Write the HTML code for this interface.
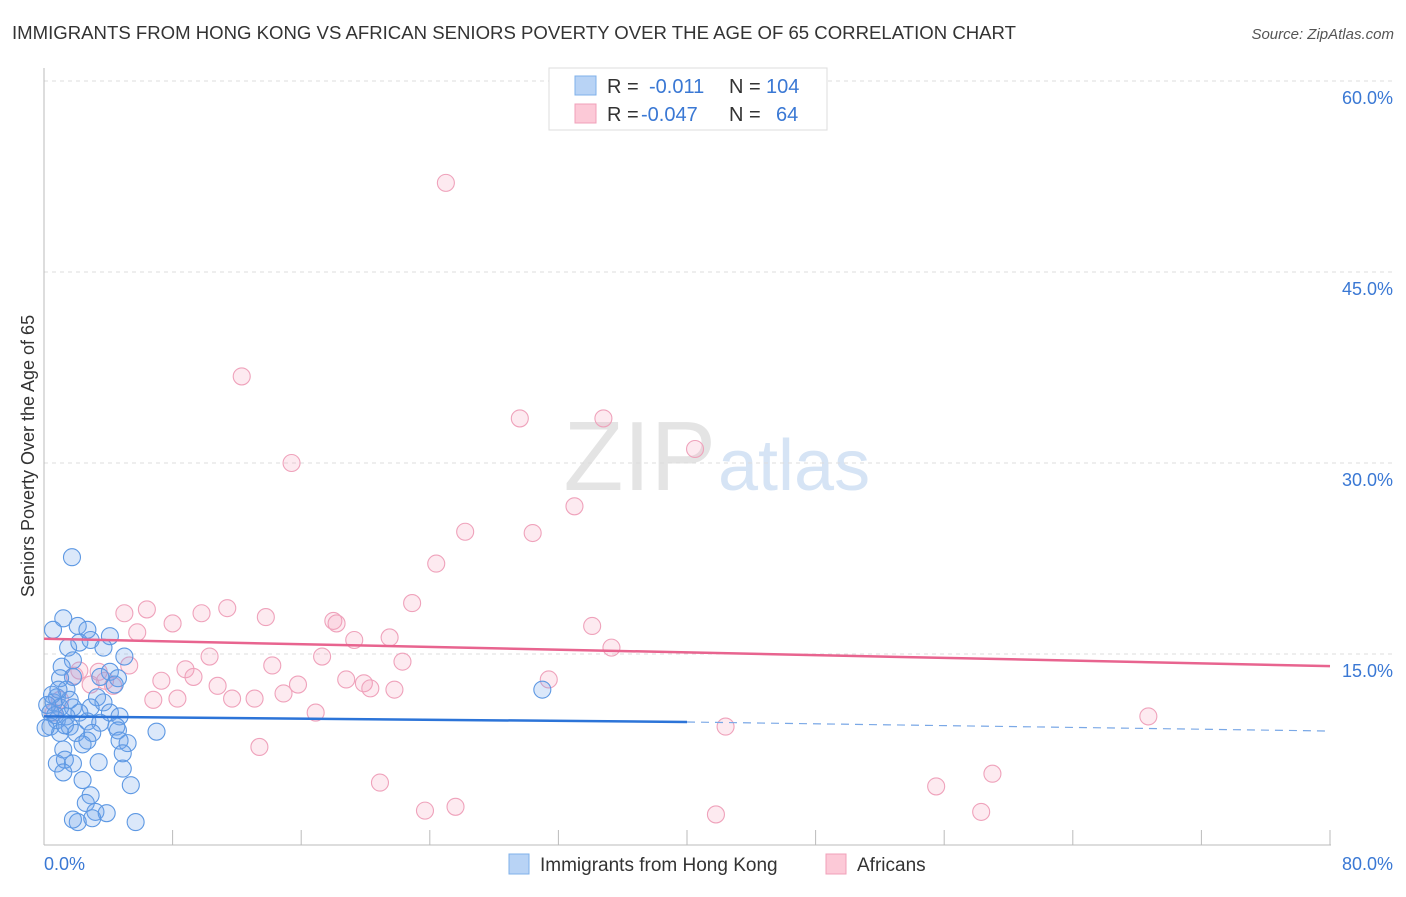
<!DOCTYPE html>
<html><head><meta charset="utf-8"><style>
body{margin:0;background:#fff;font-family:"Liberation Sans",sans-serif;}
svg text{font-family:"Liberation Sans",sans-serif;}
</style></head><body>
<svg id="chart" width="1406" height="892" xmlns="http://www.w3.org/2000/svg">
<text x="12" y="39" font-size="18" fill="#333" textLength="1004" lengthAdjust="spacingAndGlyphs">IMMIGRANTS FROM HONG KONG VS AFRICAN SENIORS POVERTY OVER THE AGE OF 65 CORRELATION CHART</text>
<text x="1394" y="39" font-size="15" fill="#555" font-style="italic" text-anchor="end">Source: ZipAtlas.com</text>
<text x="716" y="490" font-size="98" fill="#e4e4e4" text-anchor="end" font-family="Liberation Serif">ZIP</text>
<text x="718" y="490" font-size="72" fill="#d6e4f5">atlas</text>
<g id="grid"></g>
<g id="axes"></g>
<g id="pts"></g>
<g id="lines"></g>
<text transform="translate(34,456) rotate(-90)" font-size="18" fill="#333" text-anchor="middle">Seniors Poverty Over the Age of 65</text>
<g>
<rect x="549" y="68" width="278" height="62" fill="#fff" stroke="#ddd"/>
<rect x="575" y="76" width="21" height="19" fill="#b8d3f5" stroke="#7fb0ea"/>
<rect x="575" y="104" width="21" height="19" fill="#fcc9d7" stroke="#f0a0ba"/>
<text x="607" y="93" font-size="20" fill="#333">R = </text><text x="649" y="93" font-size="20" fill="#3a78d4">-0.011</text>
<text x="729" y="93" font-size="20" fill="#333">N = </text><text x="766" y="93" font-size="20" fill="#3a78d4">104</text>
<text x="607" y="121" font-size="20" fill="#333">R = </text><text x="641" y="121" font-size="20" fill="#3a78d4">-0.047</text>
<text x="729" y="121" font-size="20" fill="#333">N = </text><text x="776" y="121" font-size="20" fill="#3a78d4">64</text>
</g>
<g>
<rect x="509" y="854" width="20" height="20" fill="#b8d3f5" stroke="#7fb0ea"/>
<text x="540" y="871" font-size="19" fill="#333">Immigrants from Hong Kong</text>
<rect x="826" y="854" width="20" height="20" fill="#fcc9d7" stroke="#f0a0ba"/>
<text x="857" y="871" font-size="19" fill="#333">Africans</text>
</g>
</svg>
<script>
const yTicks=[15,30,45,60];
const yTickLabels=["15.0%","30.0%","45.0%","60.0%"];
const xTicks=[0,8,16,24,32,40,48,56,64,72,80];
const blueX=[1.74,1.2,0.56,2.1,2.7,4.1,1.5,2.2,2.9,3.7,5.0,1.8,1.1,4.1,1.8,1.0,3.5,4.6,4.4,1.4,0.8,0.6,1.0,1.8,3.3,3.7,2.9,4.1,4.7,2.2,1.4,0.8,0.4,0.4,1.6,2.7,3.5,4.5,1.0,2.0,3.0,4.6,7.0,4.7,2.7,5.2,1.2,2.4,4.9,1.3,1.8,0.8,3.4,4.9,1.2,2.4,5.4,2.9,2.6,3.2,3.9,2.1,1.8,3.0,5.7,31.0,0.5,0.2,0.7,1.3,0.1,1.6,0.9];
const blueY=[22.6,17.8,16.9,17.2,16.9,16.4,15.5,15.9,16.1,15.5,14.8,14.5,14.0,13.6,13.2,13.1,13.2,13.1,12.6,12.2,11.6,11.2,10.8,10.8,11.6,11.2,10.8,10.4,10.1,10.4,10.1,9.8,10.4,9.3,9.3,9.7,9.6,9.3,8.8,8.8,8.8,9.0,8.9,8.2,8.2,8.0,7.5,7.9,7.2,6.7,6.4,6.4,6.5,6.0,5.7,5.1,4.7,3.9,3.3,2.6,2.5,1.8,2.0,2.1,1.8,12.2,11.8,11.0,10.2,9.4,9.2,11.4,12.2];
const pinkX=[25.0,12.3,15.4,29.6,34.8,40.5,33.0,26.2,30.4,24.4,22.9,5.0,6.4,9.8,11.4,13.8,8.0,18.0,18.2,5.8,19.3,21.5,34.1,35.3,10.3,17.3,22.3,5.3,8.8,14.2,3.4,1.9,3.8,7.3,9.3,10.8,15.8,18.8,19.9,20.3,21.8,31.4,4.3,2.9,11.7,13.1,14.9,8.3,6.8,16.9,1.0,0.6,13.4,42.4,68.7,59.0,55.5,20.9,23.7,25.6,41.8,58.3,2.2];
const pinkY=[52.0,36.8,30.0,33.5,33.5,31.1,26.6,24.6,24.5,22.1,19.0,18.2,18.5,18.2,18.6,17.9,17.4,17.6,17.4,16.7,16.1,16.3,17.2,15.5,14.8,14.8,14.4,14.1,13.8,14.1,13.6,13.3,12.9,12.9,13.2,12.5,12.6,13.0,12.7,12.3,12.2,13.0,12.5,12.6,11.5,11.5,11.9,11.5,11.4,10.4,11.4,10.4,7.7,9.3,10.1,5.6,4.6,4.9,2.7,3.0,2.4,2.6,13.7];
const blueTrend=[10.1,9.66,8.95]; // at x=0, 40, 80
const pinkTrend=[16.2,14.05]; // at x=0, 80
const NS="http://www.w3.org/2000/svg";
const X=v=>44+v/80*1286;
const Y=v=>845-v/15*191;
function mk(tag,attrs,parent){const e=document.createElementNS(NS,tag);for(const k in attrs)e.setAttribute(k,attrs[k]);parent.appendChild(e);return e;}
const grid=document.getElementById('grid'),axes=document.getElementById('axes'),pts=document.getElementById('pts'),lines=document.getElementById('lines');
yTicks.forEach((t,i)=>{
 const l=mk('line',{x1:44,x2:1394,y1:Y(t),y2:Y(t),stroke:'#ddd','stroke-dasharray':'4,4'},grid);
 
 
 const tx=mk('text',{x:1393,y:Y(t)+23,'font-size':18,fill:'#3a78d4','text-anchor':'end'},axes);
 tx.textContent=yTickLabels[i];
 
 
});
const ax=mk('line',{x1:44,x2:44,y1:68,y2:845,stroke:'#bbb'},axes);


const bx=mk('line',{x1:44,x2:1331,y1:845,y2:845,stroke:'#bbb'},axes);


xTicks.forEach(t=>{
 const l=mk('line',{x1:X(t),x2:X(t),y1:830,y2:845,stroke:'#bbb'},axes);
 
 
});
const xl0=mk('text',{x:44,y:870,'font-size':18,fill:'#3a78d4'},axes);xl0.textContent='0.0%';


const xl1=mk('text',{x:1393,y:870,'font-size':18,fill:'#3a78d4','text-anchor':'end'},axes);xl1.textContent='80.0%';


pinkX.forEach((v,i)=>{
 const c=mk('circle',{cx:X(v),cy:Y(pinkY[i]),r:8.5,fill:'rgba(245,160,188,0.22)',stroke:'#efa2bb','stroke-width':1.1},pts);
 
 
});
blueX.forEach((v,i)=>{
 const c=mk('circle',{cx:X(v),cy:Y(blueY[i]),r:8.5,fill:'rgba(110,165,235,0.25)',stroke:'#5d98e3','stroke-width':1.1},pts);
 
 
});
const b1=mk('line',{x1:X(0),y1:Y(blueTrend[0]),x2:X(40),y2:Y(blueTrend[1]),stroke:'#2c74d8','stroke-width':2.5},lines);


const b2=mk('line',{x1:X(40),y1:Y(blueTrend[1]),x2:X(80),y2:Y(blueTrend[2]),stroke:'#7aa8e6','stroke-width':1.2,'stroke-dasharray':'8,6'},lines);


const p1=mk('line',{x1:X(0),y1:Y(pinkTrend[0]),x2:X(80),y2:Y(pinkTrend[1]),stroke:'#e8648f','stroke-width':2.5},lines);


</script>
</body></html>
